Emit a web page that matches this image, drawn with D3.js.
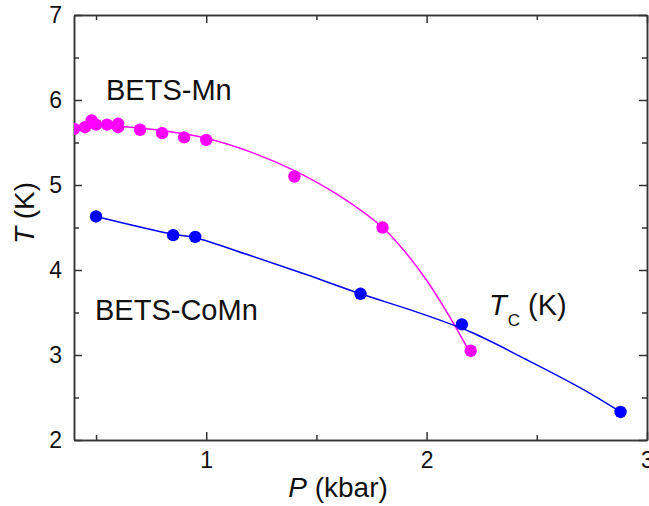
<!DOCTYPE html>
<html>
<head>
<meta charset="utf-8">
<script src="https://cdn.jsdelivr.net/npm/d3@7"></script>
<style>
    body { margin: 0; background: #fff; }
    svg { display: block; font-family: "Liberation Sans", Arial, sans-serif; }
    .axis path, .axis line { stroke: #333; stroke-width: 1.5; }
    .axis text { font-size: 23px; fill: #111; font-family: "Liberation Sans", Arial, sans-serif; }
</style>
</head>
<body>
<div id="chart"></div>
<script>
// BETS-Mn measured points
const mnP = [0.40, 0.45, 0.48, 0.50, 0.55, 0.60, 0.60, 0.70, 0.80, 0.90, 1.00, 1.40, 1.80, 2.20];
const mnT = [5.66, 5.68, 5.76, 5.71, 5.71, 5.72, 5.68, 5.65, 5.61, 5.56, 5.53, 5.10, 4.50, 3.05];
// BETS-Mn guide curve
const mnFitP = [0.40, 0.60, 0.80, 1.00, 1.20, 1.40, 1.60, 1.80, 1.90, 2.00, 2.10, 2.19];
const mnFitT = [5.70, 5.69, 5.64, 5.55, 5.39, 5.17, 4.88, 4.50, 4.22, 3.88, 3.47, 3.06];

// BETS-CoMn measured points
const coP = [0.50, 0.85, 0.95, 1.70, 2.16, 2.88];
const coT = [4.63, 4.41, 4.39, 3.72, 3.36, 2.33];
// BETS-CoMn guide curve
const coFitP = [0.50, 0.85, 0.95, 1.20, 1.45, 1.70, 1.95, 2.20, 2.45, 2.70, 2.88];
const coFitT = [4.63, 4.42, 4.38, 4.17, 3.95, 3.72, 3.51, 3.27, 2.95, 2.61, 2.33];

const xMajor = [1, 2, 3];
const xMinor = [0.5, 1.5, 2.5];
const yMajor = [2, 3, 4, 5, 6, 7];
const yMinor = [2.5, 3.5, 4.5, 5.5, 6.5];

const W = 649, H = 506;
const margin = { left: 74, right: 2, top: 15, bottom: 66 };

const svg = d3.select('#chart')
    .append('svg')
    .attr('width', W)
    .attr('height', H);

const x = d3.scaleLinear().domain([0.4, 3.0]).range([margin.left, W - margin.right]);
const y = d3.scaleLinear().domain([2, 7]).range([H - margin.bottom, margin.top]);

const zip = (a, b) => a.map((v, i) => [v, b[i]]);

svg.append('clipPath').attr('id', 'plotClip')
    .append('rect')
    .attr('x', x(0.4)).attr('y', y(7))
    .attr('width', x(3) - x(0.4)).attr('height', y(2) - y(7));

// axes: labelled majors, unlabelled minors, mirrored on top/right
function addAxis(axisFn, translate, values, size, labels) {
    return svg.append('g')
        .attr('class', 'axis')
        .attr('transform', translate)
        .call(axisFn
            .tickValues(values)
            .tickSizeInner(-size)
            .tickSizeOuter(0)
            .tickPadding(size + 4)
            .tickFormat(labels ? d3.format('d') : ''));
}

const atBottom = `translate(0,${y(2)})`, atTop = `translate(0,${y(7)})`;
const atLeft = `translate(${x(0.4)},0)`, atRight = `translate(${x(3)},0)`;

addAxis(d3.axisBottom(x), atBottom, xMinor, 5, false);
const xAxisG = addAxis(d3.axisBottom(x), atBottom, xMajor, 8, true);
addAxis(d3.axisTop(x), atTop, xMinor, 5, false);
addAxis(d3.axisTop(x), atTop, xMajor, 8, false);
addAxis(d3.axisLeft(y), atLeft, yMinor, 5, false);
const yAxisG = addAxis(d3.axisLeft(y), atLeft, yMajor, 8, true);
addAxis(d3.axisRight(y), atRight, yMinor, 5, false);
addAxis(d3.axisRight(y), atRight, yMajor, 8, false);

xAxisG.selectAll('text').attr('y', 12).attr('dy', '0.71em');
yAxisG.selectAll('text').attr('x', -12);

const line = d3.line()
    .x(d => x(d[0]))
    .y(d => y(d[1]))
    .curve(d3.curveCatmullRom.alpha(0.5));

const plot = svg.append('g').attr('clip-path', 'url(#plotClip)');

plot.append('path')
    .datum(zip(mnFitP, mnFitT))
    .attr('fill', 'none')
    .attr('stroke', '#ff00ff')
    .attr('stroke-width', 1.5)
    .attr('d', line);

plot.append('path')
    .datum(zip(coFitP, coFitT))
    .attr('fill', 'none')
    .attr('stroke', '#0000ff')
    .attr('stroke-width', 1.5)
    .attr('d', line);

plot.selectAll('circle.mn')
    .data(zip(mnP, mnT))
    .enter().append('circle')
    .attr('class', 'mn')
    .attr('cx', d => x(d[0]))
    .attr('cy', d => y(d[1]))
    .attr('r', 6.2)
    .attr('fill', '#ff00ff');

plot.selectAll('circle.co')
    .data(zip(coP, coT))
    .enter().append('circle')
    .attr('class', 'co')
    .attr('cx', d => x(d[0]))
    .attr('cy', d => y(d[1]))
    .attr('r', 6.2)
    .attr('fill', '#0000ff');

// titles
const yTitle = svg.append('text')
    .attr('transform', 'translate(34,213) rotate(-90)')
    .attr('text-anchor', 'middle')
    .attr('font-size', 28)
    .attr('fill', '#111');
yTitle.append('tspan').attr('font-style', 'italic').text('T');
yTitle.append('tspan').text(' (K)');

const xTitle = svg.append('text')
    .attr('x', 338)
    .attr('y', 497)
    .attr('text-anchor', 'middle')
    .attr('font-size', 28)
    .attr('fill', '#111');
xTitle.append('tspan').attr('font-style', 'italic').text('P');
xTitle.append('tspan').text(' (kbar)');

// annotations
svg.append('text')
    .attr('x', 106).attr('y', 100)
    .attr('font-size', 29).attr('fill', '#111')
    .text('BETS-Mn');

svg.append('text')
    .attr('x', 95).attr('y', 320)
    .attr('font-size', 29).attr('fill', '#111')
    .text('BETS-CoMn');

const tc = svg.append('text')
    .attr('x', 489).attr('y', 315)
    .attr('font-size', 29).attr('fill', '#111');
tc.append('tspan').attr('font-style', 'italic').text('T');
tc.append('tspan').attr('font-size', 17).attr('dy', 11).attr('dx', 1).text('C');
tc.append('tspan').attr('dy', -11).text(' (K)');
</script>
</body>
</html>
